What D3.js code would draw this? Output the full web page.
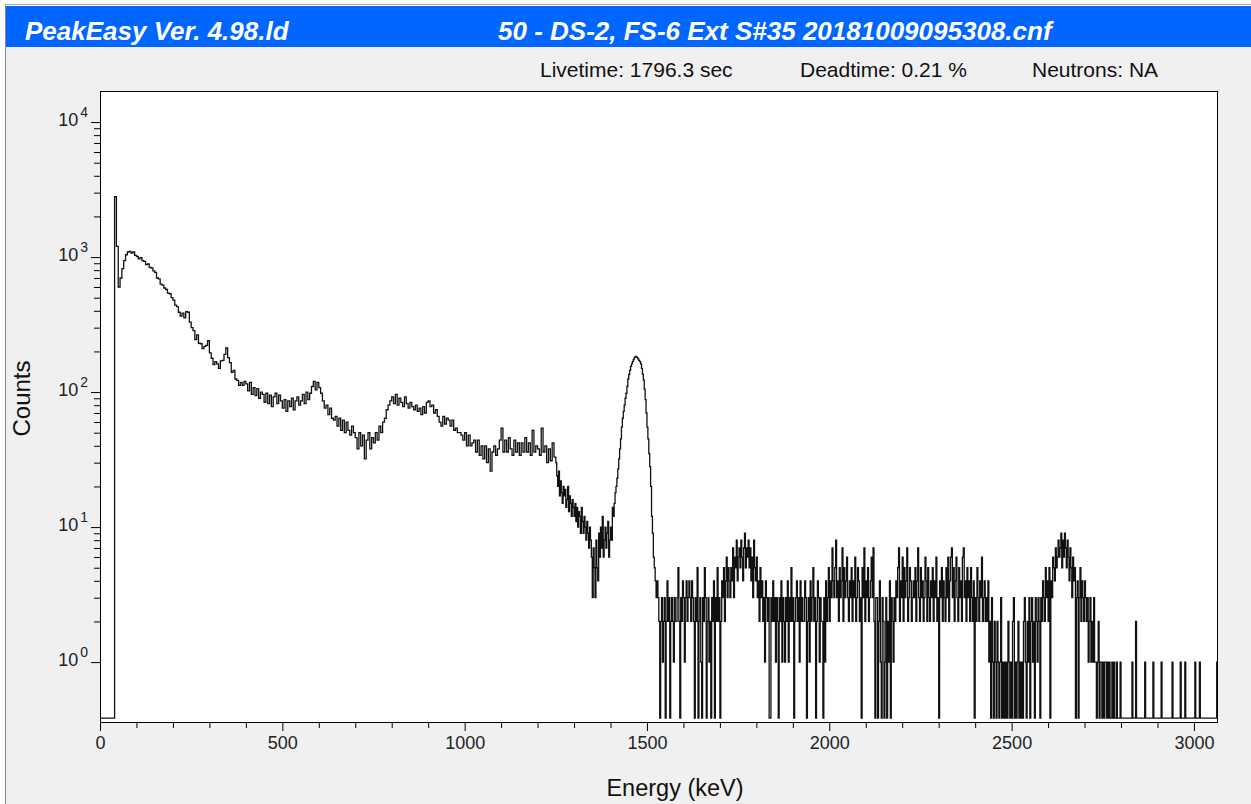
<!DOCTYPE html>
<html>
<head>
<meta charset="utf-8">
<script src="https://cdnjs.cloudflare.com/ajax/libs/d3/7.8.5/d3.min.js"></script>
<style>
  html, body { margin: 0; padding: 0; background: #fff; }
  svg { display: block; font-family: "Liberation Sans", Arial, sans-serif; }
</style>
</head>
<body>
<div id="chart"></div>
<script>
// 0 - 1250 keV, 5 keV per bin
const lowStart = 0, lowBin = 5;
const lowCounts = [
  0,0,0,0,0,0,0,0,2800,1200,
  600,700,820,940,1040,1090,1100,1070,1090,1030,
  1010,970,990,940,930,880,890,840,830,790,
  770,700,690,630,620,590,575,540,535,500,
  480,440,430,390,365,385,355,395,390,330,
  300,285,245,265,230,228,210,218,222,240,
  195,178,160,168,162,150,170,172,190,212,
  180,165,140,145,125,122,112,118,112,120,
  115,102,118,96,108,94,106,90,100,96,
  84,98,82,95,78,92,98,82,95,86,
  76,88,72,86,78,90,74,86,92,80,
  86,96,82,100,88,98,110,120,104,118,
  108,98,86,76,80,68,76,64,62,66,
  56,64,52,62,50,60,52,48,56,50,
  46,38,50,40,48,32,44,50,38,46,
  42,50,44,56,50,60,64,74,80,86,
  92,82,96,80,90,84,78,92,82,76,
  84,78,74,80,72,76,68,78,70,84,
  86,78,80,70,74,66,60,56,66,58,
  64,62,56,62,52,54,50,50,48,44,
  50,40,48,40,42,44,36,44,34,40,
  32,40,30,38,26,36,40,34,38,44,
  54,36,44,36,46,38,34,44,36,42,
  34,42,36,46,36,42,34,52,36,40,
  38,34,54,36,40,30,38,31,42,33
];

// 1250 - 3070 keV, 2.5 keV per bin
const highStart = 1250, highBin = 2.5;
const highCounts = [
  30,24,20,26,17,22,18,15,20,17, 19,14,16,20,13,17,15,12,16,14,
  12,15,11,14,10,13,12,9,14,11, 9,12,10,8,11,9,7,10,8,6,
  3,7,5,3,8,5,4,9,6,10, 7,12,6,8,10,7,9,11,6,8,
  10,8,14,12,15,18,20,23,27,32, 38,45,55,64,72,80,90,98,110,125,
  135,145,155,162,168,174,180,184,183,180, 176,172,168,162,150,136,123,105,88,70,
  55,45,35,28,20,12,9,6,5,4, 3,4,
  3,2,0,2,3,1,2,3,0,2, 4,2,3,0,2,3,2,1,3,2,
  2,3,5,2,0,3,2,4,3,1, 3,4,2,3,4,3,2,4,3,2,
  0,3,2,5,0,2,3,1,0,3, 2,5,3,0,2,3,1,2,0,3,
  2,4,0,3,2,5,2,3,0,2, 4,3,5,2,4,6,3,5,4,3,
  5,4,7,3,6,5,8,4,6,7, 5,8,6,4,7,9,5,7,6,8,
  5,7,4,6,3,8,5,4,6,3, 4,2,5,3,4,2,3,1,4,3,
  2,3,0,0,3,2,4,2,3,1, 3,2,0,3,2,4,1,3,2,1,
  3,2,4,1,3,2,5,2,3,0, 2,3,4,2,3,1,4,2,3,2,
  2,4,3,0,2,3,1,4,2,3, 5,2,3,0,2,4,3,1,3,2,
  2,0,3,1,4,2,3,5,2,4, 3,7,4,3,5,8,3,4,2,5,
  3,4,7,2,5,3,4,6,3,2, 4,3,5,2,4,3,6,2,3,5,
  4,2,3,0,5,3,7,2,4,3, 5,2,3,4,6,3,7,2,0,3,
  3,0,2,4,1,0,3,2,0,1, 3,0,2,1,4,0,3,2,1,3,
  2,4,3,5,7,2,4,3,6,2, 5,3,4,7,2,3,5,4,2,3,
  4,3,5,2,4,7,3,2,5,3, 4,2,3,6,4,2,5,3,2,4,
  3,5,2,4,3,6,2,3,0,4, 3,5,2,4,3,2,5,3,6,2,
  4,6,7,3,5,2,4,6,3,2, 5,3,4,2,6,7,3,4,2,5,
  3,4,2,5,3,2,4,0,3,2, 5,3,2,4,3,6,2,3,4,2,
  3,2,4,1,2,0,3,1,0,2, 1,0,2,1,0,1,3,0,1,0,
  1,0,1,0,2,1,0,1,0,2, 3,0,1,0,1,2,0,1,0,1,
  0,2,3,1,0,2,1,3,0,2, 3,1,2,0,3,2,1,3,2,0,
  3,2,4,3,2,5,3,4,2,5, 0,4,3,6,5,4,7,5,6,8,
  6,7,9,5,8,6,9,7,5,8, 6,4,7,5,3,6,4,5,0,3,
  4,0,3,5,2,4,3,2,4,3, 2,3,1,2,3,1,2,1,3,1,
  1,0,1,2,0,1,1,0,1,0, 1,1,0,1,0,1,0,0,1,0,
  1,0,0,1,0,0,0,1,0,0, 0,0,0,0,0,0,0,0,0,0,
  1,0,0,0,2,0,0,0,0,0, 0,0,0,0,1,0,0,0,0,0,
  0,0,0,1,0,0,0,0,0,0, 0,0,1,0,0,0,0,0,0,0,
  0,0,0,0,1,0,0,0,0,0, 0,0,0,1,0,0,0,0,1,0,
  0,0,0,0,0,0,0,0,0,1, 0,0,0,0,1,0,0,0,0,0,
  0,0,0,0,0,0,0,0,0,0, 0,0,0,1,0,0
];

const xTickValues = [0, 500, 1000, 1500, 2000, 2500, 3000];
const yDecades = [0, 1, 2, 3, 4];
const appTitle = "PeakEasy Ver. 4.98.ld";
const fileTitle = "50 - DS-2, FS-6 Ext S#35 20181009095308.cnf";
const headerLabels = ["Livetime: 1796.3 sec", "Deadtime: 0.21 %", "Neutrons: NA"];
const xLabel = "Energy (keV)";
const yLabel = "Counts";

function drawSpectrum() {
  const width = 1251, height = 804;
  const plot = { left: 100, right: 1218, top: 91, bottom: 722 };
  const floorValue = 0.385; // empty channels are drawn on this level

  const svg = d3.select("#chart").append("svg")
    .attr("width", width).attr("height", height);

  // window background + title bar
  svg.append("rect").attr("width", width).attr("height", height).attr("fill", "#fff");
  svg.append("rect").attr("x", 6).attr("y", 47).attr("width", width - 6).attr("height", height - 47)
    .attr("fill", "#f0f0f0");
  svg.append("line").attr("x1", 5.5).attr("x2", 5.5).attr("y1", 4).attr("y2", height)
    .attr("stroke", "#8a8a8a");
  svg.append("line").attr("x1", 5).attr("x2", width).attr("y1", 4.5).attr("y2", 4.5)
    .attr("stroke", "#a8a8a8");
  svg.append("rect").attr("x", 6).attr("y", 6).attr("width", width - 6).attr("height", 41)
    .attr("fill", "#0066ff");

  svg.append("text")
    .attr("x", 25).attr("y", 40)
    .style("font-size", "26px").style("font-weight", "bold").style("font-style", "italic")
    .attr("fill", "#fff")
    .text(appTitle);
  svg.append("text")
    .attr("x", 498).attr("y", 40)
    .style("font-size", "26px").style("font-weight", "bold").style("font-style", "italic")
    .attr("fill", "#fff")
    .text(fileTitle);

  const headerX = [540, 800, 1032];
  svg.selectAll(".header").data(headerLabels).enter().append("text")
    .attr("class", "header")
    .attr("x", (d, i) => headerX[i]).attr("y", 77)
    .style("font-size", "21px").attr("fill", "#111")
    .text(d => d);

  // scales
  const x = d3.scaleLinear().domain([0, 3066]).range([plot.left, plot.right]);
  const y = d3.scaleLog().domain([0.36, Math.pow(10, 4.23)]).range([plot.bottom, plot.top]);

  svg.append("rect")
    .attr("x", plot.left).attr("y", plot.top)
    .attr("width", plot.right - plot.left).attr("height", plot.bottom - plot.top)
    .attr("fill", "#fff");

  svg.append("clipPath").attr("id", "clip").append("rect")
    .attr("x", plot.left).attr("y", plot.top)
    .attr("width", plot.right - plot.left).attr("height", plot.bottom - plot.top);

  // spectrum as a step line
  const points = lowCounts.map((c, i) => ({ e: lowStart + i * lowBin, c: c }))
    .concat(highCounts.map((c, i) => ({ e: highStart + i * highBin, c: c })));
  points.push({ e: highStart + highCounts.length * highBin, c: highCounts[highCounts.length - 1] });

  const line = d3.line()
    .x(d => x(d.e))
    .y(d => y(Math.max(d.c, floorValue)))
    .curve(d3.curveStepAfter);

  svg.append("path")
    .datum(points)
    .attr("clip-path", "url(#clip)")
    .attr("d", line)
    .attr("fill", "none")
    .attr("stroke", "#111")
    .attr("stroke-width", 1.3);

  // x axis
  const xMinor = d3.range(0, 3001, 100).filter(v => v % 500 !== 0);
  svg.append("g")
    .attr("transform", `translate(0,${plot.bottom})`)
    .call(d3.axisBottom(x).tickValues(xMinor).tickSize(6).tickFormat(""))
    .call(g => g.select(".domain").remove());
  const xAxis = svg.append("g")
    .attr("transform", `translate(0,${plot.bottom})`)
    .call(d3.axisBottom(x).tickValues(xTickValues).tickSize(9).tickPadding(5).tickFormat(d3.format("d")));
  xAxis.select(".domain").remove();
  xAxis.selectAll("text").style("font-size", "18px").attr("fill", "#222")
    .style("font-family", "Liberation Sans, Arial, sans-serif");

  // y axis
  const yMinor = [];
  yDecades.slice(0, -1).forEach(d => {
    for (let k = 2; k <= 9; k++) yMinor.push(k * Math.pow(10, d));
  });
  svg.append("g")
    .attr("transform", `translate(${plot.left},0)`)
    .call(d3.axisLeft(y).tickValues(yMinor).tickSize(6).tickFormat(""))
    .call(g => g.select(".domain").remove());
  svg.append("g")
    .attr("transform", `translate(${plot.left},0)`)
    .call(d3.axisLeft(y).tickValues(yDecades.map(d => Math.pow(10, d))).tickSize(9).tickFormat(""))
    .call(g => g.select(".domain").remove());

  yDecades.forEach(d => {
    const t = svg.append("text")
      .attr("x", 88).attr("y", y(Math.pow(10, d)) + 4)
      .attr("text-anchor", "end")
      .style("font-size", "18px").attr("fill", "#222");
    t.append("tspan").text("10");
    t.append("tspan").attr("dx", 2).attr("dy", -9).style("font-size", "14px").text(d);
  });

  // frame
  svg.append("rect")
    .attr("x", plot.left + 0.5).attr("y", plot.top + 0.5)
    .attr("width", plot.right - plot.left - 1).attr("height", plot.bottom - plot.top)
    .attr("fill", "none").attr("stroke", "#000");

  // axis titles
  svg.append("text")
    .attr("x", 675).attr("y", 796)
    .attr("text-anchor", "middle")
    .style("font-size", "23.5px").attr("fill", "#111")
    .text(xLabel);
  svg.append("text")
    .attr("transform", `translate(30,${(plot.top + plot.bottom) / 2 - 8}) rotate(-90)`)
    .attr("text-anchor", "middle")
    .style("font-size", "24px").attr("fill", "#111")
    .text(yLabel);
}

drawSpectrum();
</script>
</body>
</html>
